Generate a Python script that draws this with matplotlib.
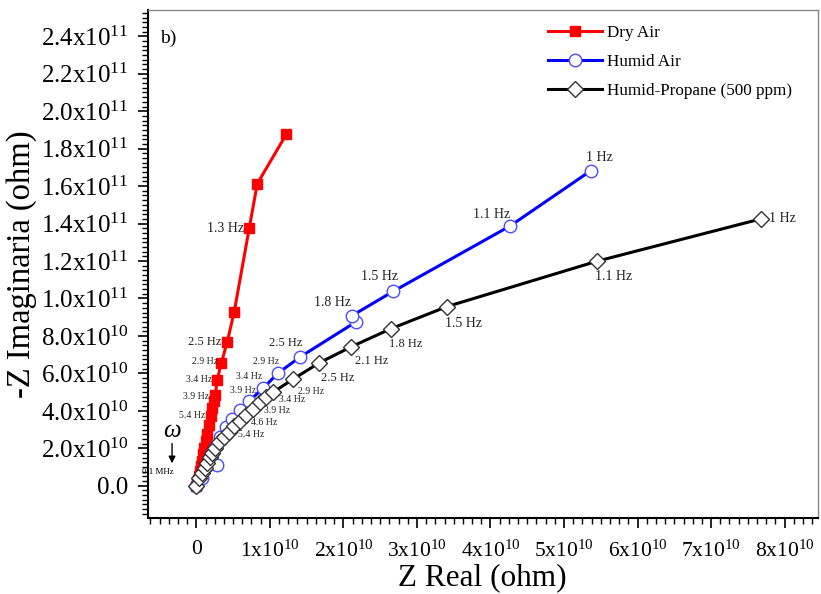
import matplotlib
matplotlib.use('Agg')
import matplotlib.pyplot as plt
from matplotlib.ticker import MultipleLocator, FuncFormatter

plt.rcParams['font.family'] = ['Liberation Serif', 'DejaVu Serif']
plt.rcParams['mathtext.fontset'] = 'custom'
plt.rcParams['mathtext.rm'] = 'Liberation Serif'
plt.rcParams['mathtext.it'] = 'Liberation Serif:italic'

# Dry air (Z real in 1e10 ohm, -Z imag in 1e11 ohm)
dry_re = [0, 0.014, 0.027, 0.041, 0.054, 0.068, 0.082, 0.095, 0.109, 0.136, 0.149, 0.177,
          0.204, 0.217, 0.245, 0.258, 0.285, 0.340, 0.421, 0.516, 0.720, 0.829, 1.223]
dry_im = [0, 0.011, 0.032, 0.054, 0.081, 0.108, 0.134, 0.167, 0.199, 0.237, 0.274, 0.323,
          0.371, 0.414, 0.452, 0.484, 0.565, 0.656, 0.769, 0.930, 1.376, 1.613, 1.876]

# Humid air
hum_re = [0, 0.082, 0.285, 0.217, 0.272, 0.326, 0.408, 0.489, 0.598, 0.720, 0.910, 1.114,
          1.413, 2.174, 2.120, 2.677, 4.266, 5.367]
hum_im = [0, 0.043, 0.113, 0.167, 0.210, 0.263, 0.312, 0.355, 0.403, 0.452, 0.522, 0.602,
          0.688, 0.876, 0.909, 1.038, 1.387, 1.683]

# Humid-propane (500 ppm)
prop_re = [0, 0.041, 0.082, 0.122, 0.149, 0.190, 0.217, 0.258, 0.312, 0.380, 0.448, 0.516,
           0.598, 0.679, 0.774, 0.870, 0.951, 1.046, 1.318, 1.671, 2.106, 2.649, 3.410,
           5.448, 7.677]
prop_im = [0, 0.043, 0.070, 0.097, 0.124, 0.151, 0.177, 0.204, 0.231, 0.258, 0.285, 0.317,
           0.344, 0.376, 0.409, 0.446, 0.473, 0.500, 0.570, 0.656, 0.742, 0.839, 0.957,
           1.199, 1.425]

# frequency labels: (text, x, y, fontsize, ha)
dry_labels = [('1.3 Hz', 0.652, 1.376, 10, 'right'), ('2.5 Hz', 0.34, 0.769, 9, 'right'),
              ('2.9 Hz', 0.30, 0.661, 7, 'right'), ('3.4 Hz', 0.22, 0.570, 7, 'right'),
              ('3.9 Hz', 0.18, 0.478, 7, 'right'), ('5.4 Hz', 0.12, 0.376, 7, 'right')]
hum_labels = [('1 Hz', 5.48, 1.753, 10, 'center'), ('1.1 Hz', 4.02, 1.446, 10, 'center'),
              ('1.5 Hz', 2.49, 1.118, 10, 'center'), ('1.8 Hz', 1.85, 0.978, 10, 'center'),
              ('2.5 Hz', 1.22, 0.763, 9, 'center'), ('2.9 Hz', 0.95, 0.661, 7, 'center'),
              ('3.4 Hz', 0.72, 0.581, 7, 'center'), ('3.9 Hz', 0.63, 0.511, 7, 'center')]
prop_labels = [('1 Hz', 7.79, 1.425, 10, 'left'), ('1.1 Hz', 5.67, 1.118, 10, 'center'),
               ('1.5 Hz', 3.64, 0.866, 10, 'center'), ('1.8 Hz', 2.85, 0.758, 9, 'center'),
               ('2.1 Hz', 2.38, 0.667, 9, 'center'), ('2.5 Hz', 1.92, 0.575, 9, 'center'),
               ('2.9 Hz', 1.56, 0.505, 7, 'center'), ('3.4 Hz', 1.30, 0.462, 7, 'center'),
               ('3.9 Hz', 1.10, 0.403, 7, 'center'), ('4.6 Hz', 0.92, 0.339, 7, 'center'),
               ('5.4 Hz', 0.75, 0.274, 7, 'center')]

fig = plt.figure(figsize=(8.21, 5.94), dpi=100)
ax = fig.add_axes([0.180, 0.128, 0.816, 0.855])

ax.plot([v * 1e10 for v in dry_re], [v * 1e11 for v in dry_im], color='#ff0000', lw=2.2,
        marker='s', ms=7, mfc='#ff0000', mec='#ff0000', label='Dry Air', zorder=3)
ax.plot([v * 1e10 for v in hum_re], [v * 1e11 for v in hum_im], color='#0000ff', lw=2.2,
        marker='o', ms=9, mfc='white', mec='#4b4bff', mew=1.0, label='Humid Air', zorder=4)
ax.plot([v * 1e10 for v in prop_re], [v * 1e11 for v in prop_im], color='black', lw=2.2,
        marker='D', ms=8, mfc='white', mec='#333333', mew=1.0,
        label='Humid-Propane (500 ppm)', zorder=5)

for group in (dry_labels, hum_labels, prop_labels):
    for txt, x, y, fs, ha in group:
        ax.text(x * 1e10, y * 1e11, txt, fontsize=fs, ha=ha, va='center', color='#222222', zorder=6)

ax.text(-0.33e10, 0.29e11, r'$\omega$', fontsize=18, ha='center', va='center')
ax.annotate('', xy=(-0.33e10, 0.105e11), xytext=(-0.33e10, 0.24e11),
            arrowprops=dict(arrowstyle='-|>', color='black', lw=1.0, mutation_scale=10))
ax.text(-0.53e10, 0.075e11, '0.1 MHz', fontsize=6.5, ha='center', va='center')
ax.text(0.018, 0.945, 'b)', fontsize=14, transform=ax.transAxes, ha='left', va='center')

ax.set_xlim(-0.66e10, 8.45e10)
ax.set_ylim(-0.172e11, 2.54e11)

ax.xaxis.set_major_locator(MultipleLocator(1e10))
ax.xaxis.set_minor_locator(MultipleLocator(0.125e10))
ax.yaxis.set_major_locator(MultipleLocator(0.2e11))
ax.yaxis.set_minor_locator(MultipleLocator(0.025e11))


def fmt_x(v, pos):
    if abs(v) < 1:
        return '0'
    return r'$%d\mathrm{x}10^{10}$' % round(v / 1e10)


def fmt_y(v, pos):
    if abs(v) < 1:
        return '0.0'
    if v < 0.99e11:
        return r'$%.1f\mathrm{x}10^{10}$' % (v / 1e10)
    return r'$%.1f\mathrm{x}10^{11}$' % (v / 1e11)


ax.xaxis.set_major_formatter(FuncFormatter(fmt_x))
ax.yaxis.set_major_formatter(FuncFormatter(fmt_y))
ax.tick_params(axis='x', which='major', direction='out', length=7, width=1.2, labelsize=15.5, pad=9)
ax.tick_params(axis='y', which='major', direction='out', length=7, width=1.2, labelsize=18, pad=7)
ax.tick_params(which='minor', direction='out', length=4, width=1.0)

for side in ('left', 'bottom'):
    ax.spines[side].set_linewidth(1.5)
for side in ('top', 'right'):
    ax.spines[side].set_linewidth(1.0)
    ax.spines[side].set_color('#888888')

ax.set_xlabel('Z Real (ohm)', fontsize=22.5)
ax.set_ylabel('-Z Imaginaria (ohm)', fontsize=23.5)
ax.xaxis.set_label_coords(0.5, -0.09)
ax.yaxis.set_label_coords(-0.166, 0.5)

ax.legend(loc='upper right', bbox_to_anchor=(0.985, 1.0), frameon=False, fontsize=12.3,
          labelspacing=0.75, handlelength=3.2, handletextpad=0.3)

fig.savefig('out.png', dpi=100)
